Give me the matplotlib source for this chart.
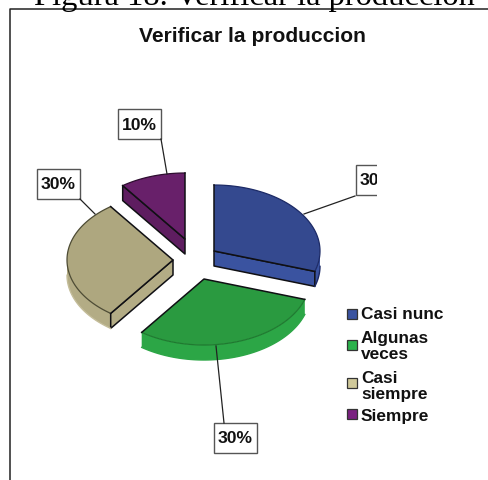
import numpy as np
import matplotlib
matplotlib.use('Agg')
import matplotlib.pyplot as plt
from matplotlib.patches import Polygon, Rectangle

plt.rcParams['font.family'] = ['Liberation Sans', 'DejaVu Sans']

categories = ['Casi nunc', 'Algunas\nveces', 'Casi\nsiempre', 'Siempre']
values = [30, 30, 30, 10]
pct_labels = ['30%', '30%', '30%', '10%']
title = 'Verificar la produccion'
caption = 'Figura 18. Verificar la produccion'

top_col = ['#34498f', '#2a9a40', '#aea77f', '#68206a']
side_col = ['#3a53a0', '#2ca646', '#b3ac85', '#5e1d60']
arc_col = ['#1c2a66', '#1f7a30', '#4d4b34', '#2e0d30']
low_col = ['#1c2a66', '#2ca646', '#c4bd9a', '#5e1d60']
key_col = ['#3a53a0', '#2bb24c', '#d0c99a', '#7a2180']
edge = '#101014'

# layout in pixels of the 488x481 picture
apex = [(214, 252), (204, 280), (173, 261), (185, 240)]
rx, ry, depth = 106, 66, 15
draw_order = [3, 2, 0, 1]
box_xy = [(377, 181), (235, 439), (58, 185), (139, 125)]
lead = [((304, 215), (355, 197)), ((216, 347), (224, 424)),
        ((95, 215), (80, 200)), ((167, 175), (161, 140))]
key_y = [315, 346, 384, 415]
text_y = [315, 346.5, 386.5, 417]

fig = plt.figure(figsize=(4.88, 4.81), dpi=100)
ax = fig.add_axes([0, 0, 1, 1])
ax.set_xlim(0, 488)
ax.set_ylim(481, 0)
ax.axis('off')


def arc(c, a0, a1, dy=0):
    t = np.radians(np.linspace(a0, a1, 80))
    return np.column_stack([c[0] + rx * np.cos(t), c[1] + dy - ry * np.sin(t)])


# slice angles, clockwise from 12 o'clock
ends = 90 - np.cumsum(values) / np.sum(values) * 360
starts = np.r_[90, ends[:-1]]

for i in draw_order:
    a0, a1, c = starts[i], ends[i], apex[i]
    # outer wall, lower half of the ellipse
    s = np.linspace(a0, a1, 300)
    s = s[np.sin(np.radians(s)) <= 0]
    if len(s) > 1:
        up = arc(c, s[0], s[-1])
        low = arc(c, s[0], s[-1], depth)
        ax.add_patch(Polygon(np.vstack([up, low[::-1]]), fc=side_col[i], ec='none'))
        ax.plot(low[:, 0], low[:, 1], color=low_col[i], lw=1)
    # radial cut faces, only those that look downwards
    for a, show in ((a0, np.cos(np.radians(a0)) < -1e-6), (a1, np.cos(np.radians(a1)) > 1e-6)):
        if show:
            p = arc(c, a, a, 0)[0]
            ax.add_patch(Polygon([c, p, (p[0], p[1] + depth), (c[0], c[1] + depth)],
                                 fc=side_col[i], ec=edge, lw=1.1, joinstyle='round'))
    # top face
    outer = arc(c, a0, a1)
    ax.add_patch(Polygon(np.vstack([[c], outer]), fc=top_col[i], ec='none'))
    ax.plot(outer[:, 0], outer[:, 1], color=arc_col[i], lw=0.9)
    ax.plot([outer[0, 0], c[0], outer[-1, 0]], [outer[0, 1], c[1], outer[-1, 1]], color=edge, lw=1.1)

# frame of the pasted chart and clipped caption
ax.plot([10, 10, 488], [481, 10, 10], color='#222222', lw=1.1)
ax.text(254, 4.5, caption, family='Liberation Serif', fontsize=23.4, ha='center', va='baseline', color='black')
ax.text(252.5, 37, title, fontsize=15.1, fontweight='bold', ha='center', va='center', color='#111111')

# the chart was cut off at x=377, the first box loses its right part
clip = Rectangle((0, 0), 377, 481, transform=ax.transData)
for i in range(len(values)):
    (x0, y0), (x1, y1) = lead[i]
    bx, by = box_xy[i]
    ax.plot([x0, x1], [y0, y1], color='#222222', lw=0.9)
    r = ax.add_patch(Rectangle((bx - 21.5, by - 15), 43, 30, fc='white', ec='#555555', lw=1))
    r.set_clip_path(clip)
    t = ax.text(bx, by, pct_labels[i], fontsize=12.6, fontweight='bold',
                ha='center', va='center', color='#111111')
    t.set_clip_path(clip)
    t.set_clip_on(True)

for i, lab in enumerate(categories):
    ax.add_patch(Rectangle((347, key_y[i] - 5), 10, 10, fc=key_col[i], ec='#333333', lw=0.9))
    ax.text(361, text_y[i], lab, fontsize=12.4, fontweight='bold', ha='left', va='center',
            linespacing=1.12, color='#111111')

fig.savefig('out.png', dpi=100)
